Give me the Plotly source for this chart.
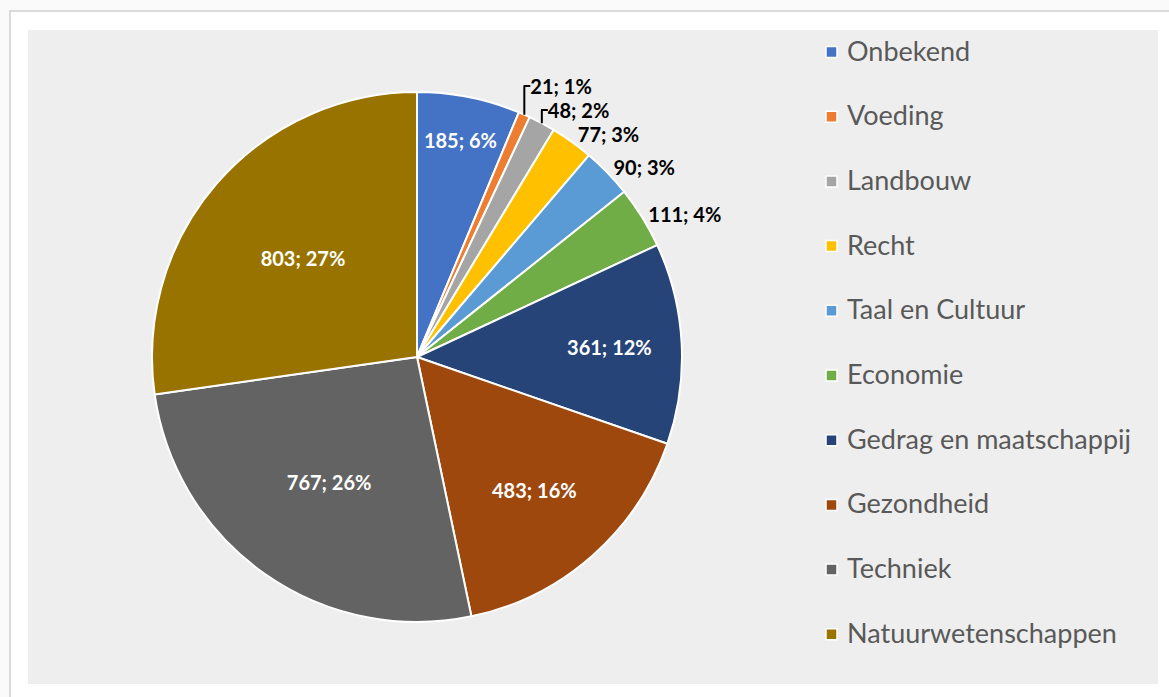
import plotly.graph_objects as go

categories = ["Onbekend", "Voeding", "Landbouw", "Recht", "Taal en Cultuur", "Economie",
              "Gedrag en maatschappij", "Gezondheid", "Techniek", "Natuurwetenschappen"]
values = [185, 21, 48, 77, 90, 111, 361, 483, 767, 803]
colors = ["#4472C4", "#ED7D31", "#A5A5A5", "#FFC000", "#5B9BD5", "#70AD47",
          "#264478", "#9E480E", "#636363", "#997300"]
text_pos = ["inside", "outside", "outside", "outside", "outside", "outside",
            "inside", "inside", "inside", "inside"]
text_col = ["white" if p == "inside" else "black" for p in text_pos]

W, H = 1169, 697
def px(x):
    return x / W
def py(y):
    return 1 - y / H

fig = go.Figure()
fig.add_trace(go.Pie(
    labels=categories, values=values, sort=False, direction="clockwise", rotation=0,
    marker=dict(colors=colors, line=dict(color="white", width=2)),
    texttemplate="%{value}; %{percent:.0%}",
    textposition=text_pos,
    textfont=dict(family="Lato", size=20, color=text_col, weight="bold"),
    insidetextorientation="horizontal",
    domain=dict(x=[px(152), px(682)], y=[py(622), py(92)]),
    showlegend=False, hoverinfo="label+value+percent",
))

shapes = [
    dict(type="rect", xref="paper", yref="paper", x0=px(10), x1=1.02, y0=-0.02, y1=py(11),
         fillcolor="white", line=dict(color="#D0D0D0", width=1.5), layer="below"),
    dict(type="rect", xref="paper", yref="paper", x0=px(28), x1=px(1158), y0=py(684), y1=py(30),
         fillcolor="#EEEEEE", line=dict(width=0), layer="below"),
]
annotations = []
for i, (cat, col) in enumerate(zip(categories, colors)):
    yc = 52 + i * 64.7
    shapes.append(dict(type="rect", xref="paper", yref="paper",
                       x0=px(826), x1=px(837), y0=py(yc + 5.5), y1=py(yc - 5.5),
                       fillcolor=col, line=dict(color="white", width=1.5)))
    annotations.append(dict(xref="paper", yref="paper", x=px(845), y=py(yc - 2),
                            xanchor="left", yanchor="middle", showarrow=False, text=cat,
                            font=dict(family="Lato", size=27, color="#595959")))

fig.update_layout(
    width=W, height=H, margin=dict(l=0, r=0, t=0, b=0),
    paper_bgcolor="#FAFAFA", plot_bgcolor="#FAFAFA",
    shapes=shapes, annotations=annotations,
)
fig.write_html("out.html", config={"displayModeBar": False},
               post_script="document.body.style.margin='0';document.body.style.overflow='hidden';")
